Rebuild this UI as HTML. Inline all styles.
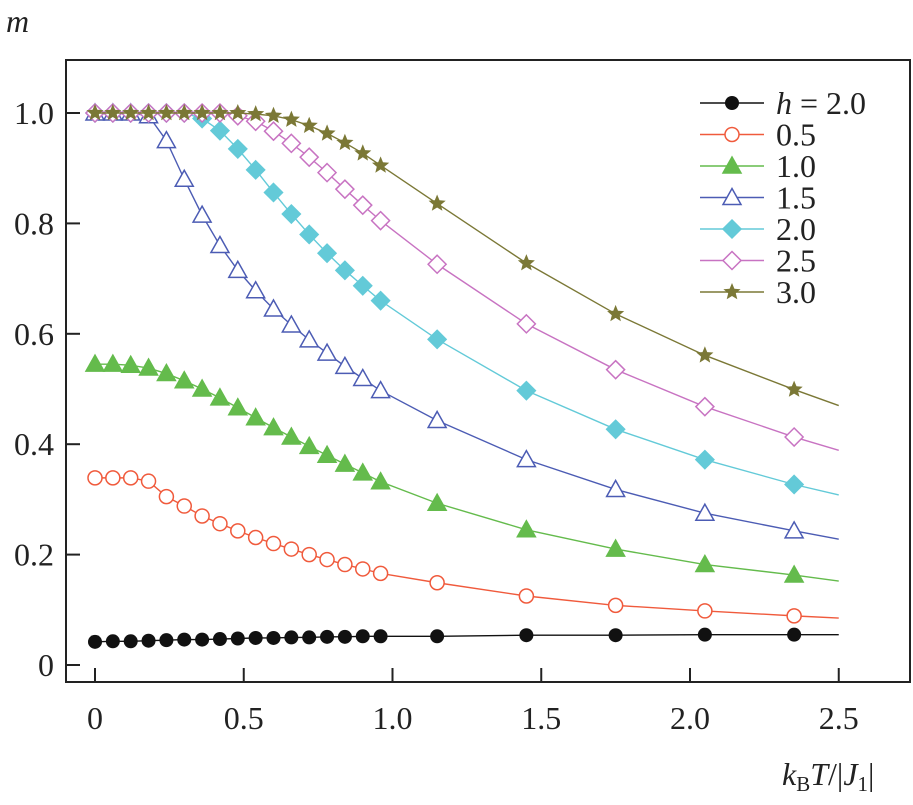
<!DOCTYPE html>
<html><head><meta charset="utf-8"><style>
body{margin:0;background:#fff}
svg text{font-family:"Liberation Serif","DejaVu Serif",serif;fill:#222}
</style></head><body>
<svg id="chart" width="913" height="800" xmlns="http://www.w3.org/2000/svg" font-family="Liberation Serif, DejaVu Serif, serif">
<text x="6" y="32" font-size="32" font-style="italic">m</text>
<rect x="66" y="60" width="844" height="622" fill="none" stroke="#222" stroke-width="2"/>
<g id="axes"></g><g id="series"></g><g id="legend"></g>
<text x="782" y="785" font-size="32"><tspan font-style="italic">k</tspan><tspan font-size="21" dy="6">B</tspan><tspan font-style="italic" dy="-6">T</tspan>/|<tspan font-style="italic">J</tspan><tspan font-size="21" dy="6">1</tspan><tspan dy="-6">|</tspan></text>
</svg>
<script>
const xs=[0,0.06,0.12,0.18,0.24,0.30,0.36,0.42,0.48,0.54,0.60,0.66,0.72,0.78,0.84,0.90,0.96,1.15,1.45,1.75,2.05,2.35,2.5];
const labels=["h = 2.0","0.5","1.0","1.5","2.0","2.5","3.0"];
const s0=[0.042,0.043,0.043,0.044,0.045,0.046,0.046,0.047,0.048,0.049,0.049,0.050,0.050,0.051,0.051,0.052,0.052,0.052,0.054,0.054,0.055,0.055,0.055];
const s1=[0.339,0.339,0.339,0.333,0.305,0.288,0.270,0.256,0.243,0.231,0.220,0.210,0.200,0.191,0.182,0.174,0.166,0.149,0.125,0.108,0.098,0.089,0.085];
const s2=[0.545,0.545,0.543,0.538,0.528,0.515,0.500,0.484,0.466,0.448,0.430,0.413,0.396,0.380,0.364,0.348,0.332,0.293,0.245,0.210,0.182,0.163,0.152];
const s3=[1,1,1,0.995,0.95,0.88,0.815,0.76,0.715,0.678,0.645,0.616,0.589,0.565,0.541,0.519,0.497,0.443,0.372,0.318,0.275,0.243,0.228];
const s4=[1,1,1,1,1,1,0.99,0.968,0.935,0.897,0.856,0.817,0.780,0.746,0.715,0.687,0.660,0.590,0.497,0.427,0.372,0.327,0.308];
const s5=[1,1,1,1,1,1,1,1,0.995,0.985,0.967,0.945,0.920,0.892,0.862,0.833,0.805,0.726,0.618,0.535,0.468,0.413,0.389];
const s6=[1,1,1,1,1,1,1,1,1,0.998,0.995,0.988,0.977,0.963,0.946,0.927,0.905,0.836,0.728,0.636,0.561,0.499,0.470];
const xTicks=[0,0.5,1.0,1.5,2.0,2.5];
const xTickLabels=["0","0.5","1.0","1.5","2.0","2.5"];
const yTicks=[0,0.2,0.4,0.6,0.8,1.0];
const yTickLabels=["0","0.2","0.4","0.6","0.8","1.0"];
const NS="http://www.w3.org/2000/svg";
const X=v=>95+v*297.5, Y=v=>665-v*552;
function mk(t,a,p){const e=document.createElementNS(NS,t);for(const k in a)e.setAttribute(k,a[k]);p.appendChild(e);return e;}
const ax=document.getElementById('axes');
xTicks.forEach((t,i)=>{
 const l=mk('line',{x1:X(t),x2:X(t),y1:682,y2:668,stroke:'#222','stroke-width':2},ax);
 
 
 const tx=mk('text',{x:X(t),y:729,'font-size':32,'text-anchor':'middle'},ax);tx.textContent=xTickLabels[i];
 
 
});
yTicks.forEach((t,i)=>{
 const l=mk('line',{x1:66,x2:80,y1:Y(t),y2:Y(t),stroke:'#222','stroke-width':2},ax);
 
 
 const tx=mk('text',{x:54,y:Y(t)+11,'font-size':32,'text-anchor':'end'},ax);tx.textContent=yTickLabels[i];
 
 
});
const series=[s0,s1,s2,s3,s4,s5,s6];
const colors=['#111','#f05a3c','#64bb4c','#4c5cb4','#63cad8','#c873c2','#7b7836'];
const shapes=['dot','ring','tri','otri','dia','odia','star'];
function marker(g,x,y,sh,c){
 let a;
 if(sh==='dot')a=mk('circle',{cx:x,cy:y,r:7,fill:c},g);
 else if(sh==='ring')a=mk('circle',{cx:x,cy:y,r:7,fill:'#fff',stroke:c,'stroke-width':1.5},g);
 else if(sh==='tri'||sh==='otri')a=mk('polygon',{points:`${x},${y-9} ${x+9},${y+7} ${x-9},${y+7}`,fill:sh==='tri'?c:'#fff',stroke:c,'stroke-width':1.5},g);
 else if(sh==='dia'||sh==='odia')a=mk('polygon',{points:`${x},${y-9} ${x+9},${y} ${x},${y+9} ${x-9},${y}`,fill:sh==='dia'?c:'#fff',stroke:c,'stroke-width':1.5},g);
 else{let p=[];for(let k=0;k<10;k++){const r=k%2?4:9,an=-Math.PI/2+k*Math.PI/5;p.push((x+r*Math.cos(an)).toFixed(1)+','+(y+r*Math.sin(an)).toFixed(1));}a=mk('polygon',{points:p.join(' '),fill:c},g);}
 return a;
}
const sg=document.getElementById('series');
series.forEach((s,i)=>{
 const g=mk('g',{},sg);
 
 
 const pl=mk('polyline',{points:s.map((v,j)=>X(xs[j])+','+Y(v)).join(' '),fill:'none',stroke:colors[i],'stroke-width':1.4},g);
 
 
 s.forEach((v,j)=>{if(j===s.length-1)return;
  const m=marker(g,X(xs[j]),Y(v),shapes[i],colors[i]);
  
  
 });
});
const lg=document.getElementById('legend');
labels.forEach((t,i)=>{
 const y=103+i*31.5;
 const g=mk('g',{},lg);
 
 
 mk('line',{x1:700,x2:764,y1:y,y2:y,stroke:colors[i],'stroke-width':1.4},g);
 marker(g,732,y,shapes[i],colors[i]);
 const tx=mk('text',{x:776,y:y+11,'font-size':32},g);
 if(i===0){tx.innerHTML='<tspan font-style="italic">h</tspan> = 2.0';}else tx.textContent=t;
});
</script>
</body></html>
